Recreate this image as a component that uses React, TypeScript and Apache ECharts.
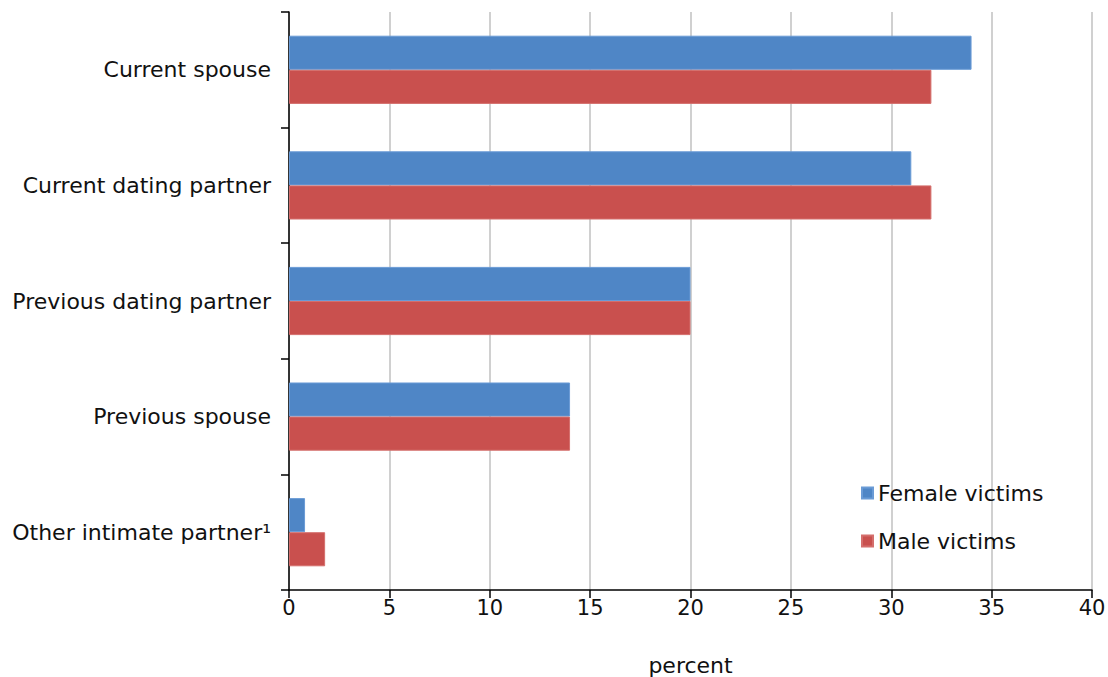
import React, { useEffect, useRef } from "react";
import * as echarts from "echarts";

const categories = [
  "Current spouse",
  "Current dating partner",
  "Previous dating partner",
  "Previous spouse",
  "Other intimate partner¹",
];
const femaleVictims = [34, 31, 20, 14, 0.8];
const maleVictims = [32, 32, 20, 14, 1.8];
const xTicks = { min: 0, max: 40, interval: 5 };

const FONT = "DejaVu Sans, Verdana, sans-serif";

export default function App() {
  const ref = useRef<HTMLDivElement>(null);
  useEffect(() => {
    if (!ref.current) return;
    const chart = echarts.init(ref.current, undefined, { renderer: "svg" });
    chart.setOption({
      animation: false,
      backgroundColor: "#ffffff",
      textStyle: { fontFamily: FONT },
      grid: {
        left: 289,
        right: 16,
        top: 12,
        bottom: 87,
        containLabel: false,
        outerBoundsMode: "none",
      },
      legend: {
        orient: "vertical",
        left: 856,
        top: 477,
        itemWidth: 11,
        itemHeight: 11,
        itemGap: 26,
        icon: "rect",
        textStyle: { fontFamily: FONT, fontSize: 22, color: "#111" },
        data: ["Female victims", "Male victims"],
      },
      xAxis: {
        type: "value",
        min: xTicks.min,
        max: xTicks.max,
        interval: xTicks.interval,
        name: "percent",
        nameLocation: "middle",
        nameGap: 64,
        nameTextStyle: { fontFamily: FONT, fontSize: 22, color: "#111" },
        axisLine: { show: true, lineStyle: { color: "#000", width: 1.5 } },
        axisTick: { show: true, length: 8, lineStyle: { color: "#000", width: 1.5 } },
        axisLabel: { margin: 7, fontFamily: FONT, fontSize: 21, color: "#111" },
        splitLine: { show: true, lineStyle: { color: "#c0c0c0", width: 1.5 } },
      },
      yAxis: {
        type: "category",
        inverse: true,
        data: categories,
        axisLine: { show: true, lineStyle: { color: "#000", width: 1.5 } },
        axisTick: { show: true, length: 8, alignWithLabel: false, lineStyle: { color: "#000", width: 1.5 } },
        axisLabel: { margin: 18, fontFamily: FONT, fontSize: 22, color: "#111" },
        splitLine: { show: false },
      },
      series: [
        {
          name: "Female victims",
          type: "bar",
          data: femaleVictims,
          barGap: "0%",
          barCategoryGap: "41%",
          itemStyle: { color: "#4F86C6", borderColor: "#6a9bd6", borderWidth: 1 },
        },
        {
          name: "Male victims",
          type: "bar",
          data: maleVictims,
          barGap: "0%",
          barCategoryGap: "41%",
          itemStyle: { color: "#C9504E", borderColor: "#d46e6c", borderWidth: 1 },
        },
      ],
    });
    return () => chart.dispose();
  }, []);
  return (
    <div
      ref={ref}
      style={{ position: "fixed", left: 0, top: 0, width: 1108, height: 677, background: "#fff" }}
    />
  );
}
